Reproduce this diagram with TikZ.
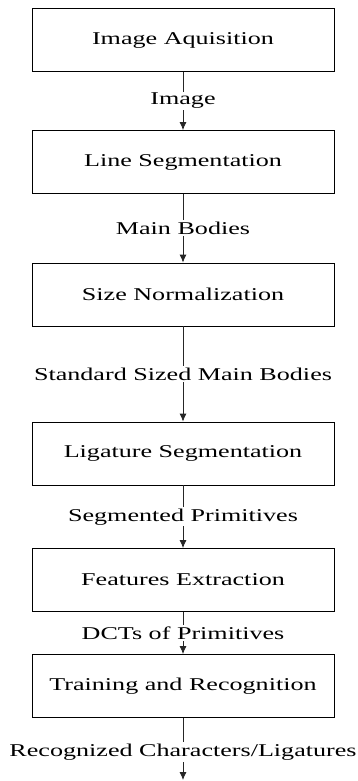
\documentclass[tikz,border=0pt]{standalone}
\usepackage{fontspec}
\setmainfont{Liberation Serif}[FakeStretch=1.45]
\usetikzlibrary{arrows.meta}

\tikzstyle{stage} = [rectangle, minimum width=302pt, minimum height=63pt, text centered, draw=black, line width=0.8pt, font=\fontsize{18}{21}\selectfont]
\tikzstyle{flowlabel} = [fill=white, inner sep=1.5pt, font=\fontsize{18}{21}\selectfont]
\tikzstyle{flow} = [line width=0.8pt, draw=black!85, -{Latex[length=8pt,width=7pt]}]

\begin{document}
\begin{tikzpicture}[x=1pt,y=1pt]
\useasboundingbox (0,0) rectangle (358,-781);

\node (acq) [stage] at (183,-40) {Image Aquisition};
\node (lineseg) [stage] at (183,-162) {Line Segmentation};
\node (sizenorm) [stage] at (183,-294.5) {Size Normalization};
\node (ligseg) [stage] at (183,-453.5) {Ligature Segmentation};
\node (featext) [stage] at (183,-580) {Features Extraction};
\node (train) [stage] at (183,-686) {Training and Recognition};
\coordinate (out) at (183,-780);

\draw[flow] (acq.south) -- node[flowlabel] {Image} (lineseg.north);
\draw[flow] (lineseg.south) -- node[flowlabel] {Main Bodies} (sizenorm.north);
\draw[flow] (sizenorm.south) -- node[flowlabel] {Standard Sized Main Bodies} (ligseg.north);
\draw[flow] (ligseg.south) -- node[flowlabel] {Segmented Primitives} (featext.north);
\draw[flow] (featext.south) -- node[flowlabel] {DCTs of Primitives} (train.north);
\draw[flow] (train.south) -- node[flowlabel,pos=0.55] {Recognized Characters/Ligatures} (out);

\end{tikzpicture}
\end{document}
